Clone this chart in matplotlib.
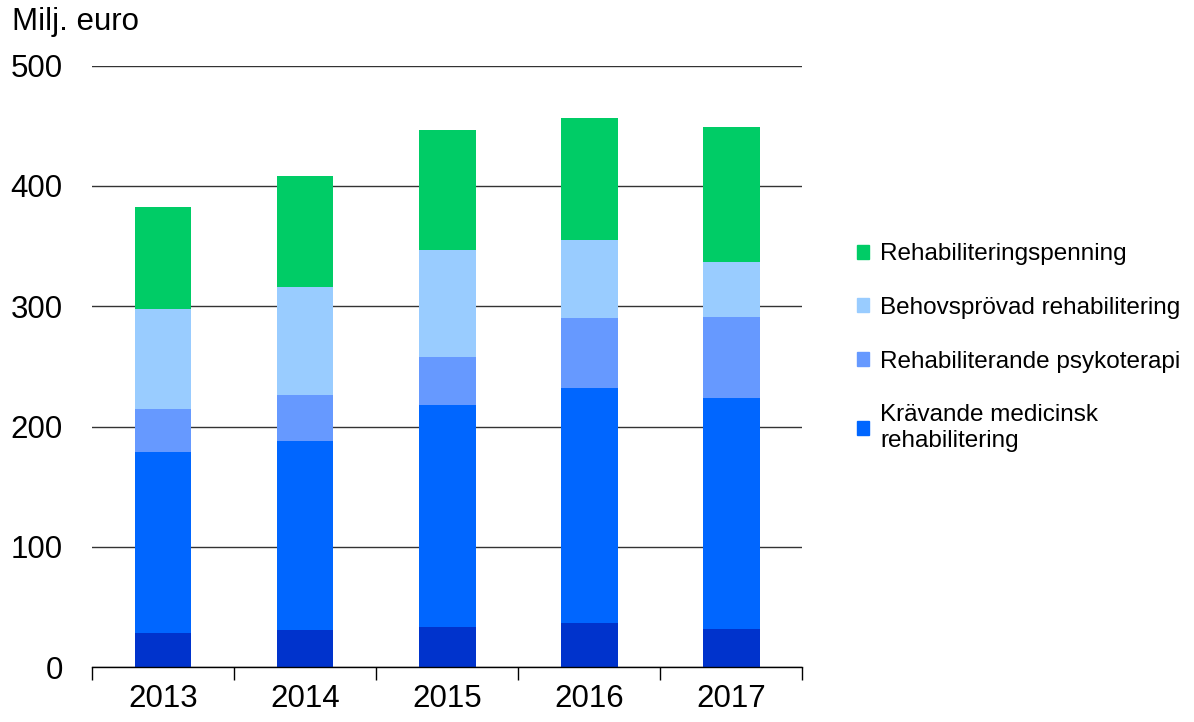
import matplotlib.pyplot as plt
from matplotlib.patches import Patch
import numpy as np

plt.rcParams['font.family'] = ['Liberation Sans', 'DejaVu Sans']

years = ['2013', '2014', '2015', '2016', '2017']

# Milj. euro, stacked bottom -> top
krav_bas = [28.5, 30.8, 33.5, 37.0, 31.6]          # dark base part (not in legend)
krav_ovrig = [150.5, 157.2, 184.5, 194.9, 192.4]  # Krävande medicinsk rehabilitering
psykoterapi = [36.0, 38.3, 40.2, 58.1, 67.4]
behovsprovad = [82.8, 90.1, 88.8, 64.7, 45.0]
rehab_penning = [84.9, 92.1, 99.8, 101.7, 112.4]

labels = ['Krävande medicinsk\nrehabilitering', 'Rehabiliterande psykoterapi',
          'Behovsprövad rehabilitering', 'Rehabiliteringspenning']
colors = ['#0066FF', '#6699FF', '#99CCFF', '#00CC66']
base_color = '#0033CC'

fig = plt.figure(figsize=(11.94, 7.22), dpi=100)
ax = fig.add_axes([0.077, 0.076, 0.595, 0.833])

x = np.arange(len(years))
width = 0.4
bottom = np.zeros(len(years))
series = [krav_bas, krav_ovrig, psykoterapi, behovsprovad, rehab_penning]
series_colors = [base_color] + colors
for vals, col in zip(series, series_colors):
    ax.bar(x, vals, width, bottom=bottom, color=col, zorder=3)
    bottom += np.array(vals)

ax.set_xlim(-0.5, len(years) - 0.5)
ax.set_ylim(0, 500)
ax.set_yticks(range(0, 501, 100))
ax.yaxis.grid(True, color='#333333', linewidth=1.0, zorder=0)
ax.set_axisbelow(True)

for s in ['top', 'right', 'left']:
    ax.spines[s].set_visible(False)
ax.spines['bottom'].set_color('black')
ax.spines['bottom'].set_linewidth(1.0)
ax.spines['bottom'].set_zorder(4)

ax.set_xticks(x)
ax.set_xticklabels(years, fontsize=22.5)
ax.tick_params(axis='x', which='major', length=0, pad=12)
ax.set_xticks(np.arange(-0.5, len(years)), minor=True)
ax.tick_params(axis='x', which='minor', length=9, width=1.0, color='black', direction='out')
ax.tick_params(axis='y', length=0, pad=21, labelsize=22.5)

fig.text(0.010, 0.970, 'Milj. euro', fontsize=22.5, va='center', ha='left')

handles = [Patch(color=c) for c in colors]
leg = fig.legend(handles[::-1], labels[::-1], loc='upper left', bbox_to_anchor=(0.718, 0.663),
                 frameon=False, fontsize=17.5, handlelength=0.5, handleheight=0.5,
                 handletextpad=0.45, labelspacing=1.3, borderpad=0, borderaxespad=0)
for t in leg.get_texts():
    t.set_linespacing(1.2)

fig.savefig('out.png', dpi=100)
